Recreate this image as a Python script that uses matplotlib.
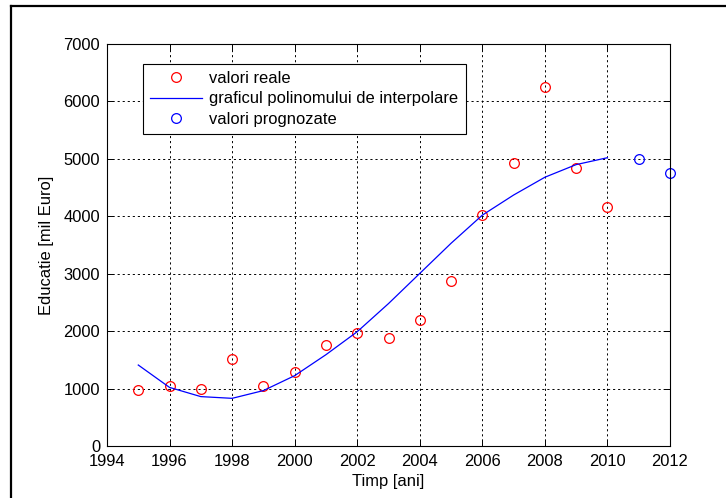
import matplotlib.pyplot as plt
from matplotlib.lines import Line2D

plt.rcParams['font.family'] = ['Liberation Sans', 'DejaVu Sans']

# valori reale (1995-2010)
ani = [1995, 1996, 1997, 1998, 1999, 2000, 2001, 2002,
       2003, 2004, 2005, 2006, 2007, 2008, 2009, 2010]
valori = [975, 1045, 995, 1515, 1045, 1290, 1760, 1975,
          1880, 2195, 2875, 4025, 4925, 6250, 4840, 4165]

# polinomul de interpolare evaluat in anii de observatie
polinom = [1410, 1020, 860, 830, 965, 1225, 1590, 1990,
           2480, 3005, 3530, 4020, 4370, 4680, 4900, 5020]

# valori prognozate
ani_prog = [2011, 2012]
valori_prog = [4990, 4760]

fs = 11.9

fig = plt.figure(figsize=(7.26, 4.98), dpi=100)
ax = fig.add_axes([107 / 726, 52 / 498, 563 / 726, 402 / 498])

ax.plot(ani, valori, 'o', mfc='none', mec=(1, 0, 0), ms=7, mew=0.9,
        label='valori reale')
ax.plot(ani, polinom, '-', color=(0, 0, 1), lw=0.9,
        label='graficul polinomului de interpolare')
ax.plot(ani_prog, valori_prog, 'o', mfc='none', mec=(0, 0, 1), ms=7, mew=0.9,
        label='valori prognozate', clip_on=False)

ax.set_xlim(1994, 2012)
ax.set_ylim(0, 7000)
ax.set_xticks(range(1994, 2013, 2))
ax.set_yticks(range(0, 7001, 1000))
ax.grid(True, color='black', linestyle=(0, (2.2, 3)), linewidth=0.7)
ax.tick_params(direction='in', length=4, width=0.7, top=True, right=True,
               labelsize=fs, colors='black')
ax.tick_params(axis='x', pad=6)
ax.tick_params(axis='y', pad=5)
for s in ax.spines.values():
    s.set_linewidth(0.8)

ax.set_xlabel('Timp [ani]', fontsize=fs, labelpad=3)
ax.set_ylabel('Educatie [mil Euro]', fontsize=fs, labelpad=7)

leg = ax.legend(loc='upper left', bbox_to_anchor=(0.064, 0.951), fontsize=fs,
                fancybox=False, framealpha=1, edgecolor='black',
                labelspacing=0.32, handlelength=3.1, handletextpad=0.45,
                borderpad=0.45, borderaxespad=0)
leg.get_frame().set_linewidth(0.8)

# chenarul exterior (stanga si sus)
fig.add_artist(Line2D([11 / 726, 11 / 726], [0, 1 - 6.5 / 498],
                      transform=fig.transFigure, color='black', lw=1.6))
fig.add_artist(Line2D([11 / 726, 1], [1 - 6.5 / 498, 1 - 6.5 / 498],
                      transform=fig.transFigure, color='black', lw=1.6))

fig.savefig('out.png', dpi=100)
